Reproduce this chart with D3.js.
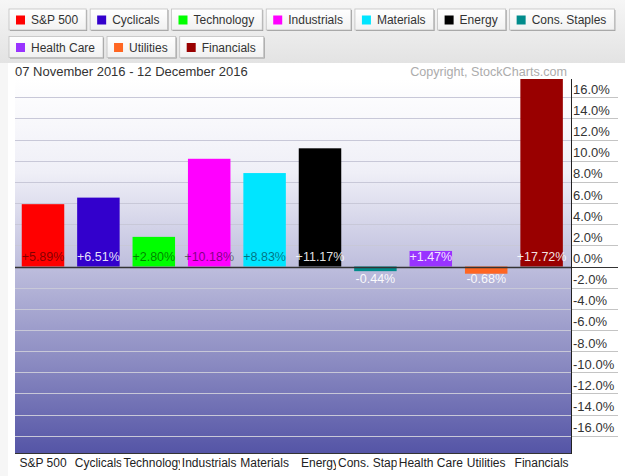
<!DOCTYPE html>
<html>
<head>
<meta charset="utf-8">
<script src="https://cdn.jsdelivr.net/npm/d3@7.9.0/dist/d3.min.js"></script>
<style>
  html, body { margin: 0; padding: 0; background: #fff; }
  svg { display: block; font-family: Arial, 'Liberation Sans', sans-serif; }
</style>
</head>
<body>
<svg id="chart" width="625" height="476"></svg>
<script>
// sector performance, 07 Nov 2016 - 12 Dec 2016
const sectors = ['S&P 500', 'Cyclicals', 'Technology', 'Industrials', 'Materials',
  'Energy', 'Cons. Staples', 'Health Care', 'Utilities', 'Financials'];
const changes = [5.89, 6.51, 2.80, 10.18, 8.83, 11.17, -0.44, 1.47, -0.68, 17.72];
const yTicks = [16, 14, 12, 10, 8, 6, 4, 2, 0, -2, -4, -6, -8, -10, -12, -14, -16];

const dateRange = '07 November 2016 - 12 December 2016';
const copyright = 'Copyright, StockCharts.com';

// colours per sector, and whether the value label is dark ink
const colors = ['#ff0000', '#3300cc', '#00ff00', '#ff00ff', '#00e5ff',
  '#000000', '#008b8b', '#9933ff', '#ff6622', '#990000'];
const darkInk = [true, false, true, true, true, false, false, false, false, false];

const svg = d3.select('#chart');
const W = 625;
const plot = { left: 15, right: 571, top: 79, bottom: 454 };
const hyphen = s => s.replace('\u2212', '-');

const defs = svg.append('defs');

const legendGrad = defs.append('linearGradient')
  .attr('id', 'legendBg').attr('x1', 0).attr('y1', 0).attr('x2', 0).attr('y2', 1);
legendGrad.append('stop').attr('offset', '0%').attr('stop-color', '#f6f6f6');
legendGrad.append('stop').attr('offset', '100%').attr('stop-color', '#e3e3e3');

const btnGrad = defs.append('linearGradient')
  .attr('id', 'btnBg').attr('x1', 0).attr('y1', 0).attr('x2', 0).attr('y2', 1);
btnGrad.append('stop').attr('offset', '0%').attr('stop-color', '#ffffff');
btnGrad.append('stop').attr('offset', '100%').attr('stop-color', '#f1f1f1');

const plotGrad = defs.append('linearGradient')
  .attr('id', 'plotBg').attr('x1', 0).attr('y1', 0).attr('x2', 0).attr('y2', 1);
[['0%', '#ffffff'], ['25%', '#efeff7'], ['50%', '#bebedd'], ['75%', '#8c8cc2'], ['100%', '#5454a6']]
  .forEach(([o, c]) => plotGrad.append('stop').attr('offset', o).attr('stop-color', c));

// faint strip down the left side
svg.append('rect').attr('x', 0).attr('y', 63).attr('width', 8).attr('height', 476 - 63)
  .attr('fill', '#f6f6f6');

// legend panel
svg.append('rect').attr('x', 0).attr('y', 0).attr('width', W).attr('height', 63)
  .attr('fill', 'url(#legendBg)');

const legend = svg.append('g');
let lx = 9, ly = 9;
const btnH = 21;
sectors.forEach((name, i) => {
  const g = legend.append('g');
  const label = g.append('text')
    .attr('font-size', 12).attr('fill', '#333')
    .text(name);
  const w = 22 + label.node().getComputedTextLength() + 8;
  if (lx + w > W - 6) { lx = 9; ly += 27.5; }
  g.attr('transform', `translate(${lx},${ly})`);
  g.insert('rect', 'text').attr('x', 1).attr('y', 1).attr('width', w).attr('height', btnH)
    .attr('fill', '#9a9a9a');
  g.insert('rect', 'text').attr('x', 0).attr('y', 0).attr('width', w).attr('height', btnH)
    .attr('fill', 'url(#btnBg)').attr('stroke', '#c0c0c0').attr('stroke-width', 0.8);
  g.append('rect').attr('x', 7).attr('y', 6.5).attr('width', 9).attr('height', 9)
    .attr('fill', colors[i]);
  label.attr('x', 22).attr('y', 15);
  lx += w + 4;
});

svg.append('text').attr('x', 15).attr('y', 76)
  .attr('font-size', 13).attr('fill', '#333').text(dateRange);
svg.append('text').attr('x', 567).attr('y', 76).attr('text-anchor', 'end')
  .attr('font-size', 12.6).attr('fill', '#acacac').text(copyright);

// scales
const x = d3.scaleBand().domain(sectors)
  .range([plot.left + 0.3, plot.right - 1.7])
  .paddingInner(0.233).paddingOuter(0.1165);
const y = d3.scaleLinear().domain([-17.72, 17.72]).range([plot.bottom, plot.top]);

// plot background
svg.append('rect')
  .attr('x', plot.left).attr('y', plot.top)
  .attr('width', plot.right - plot.left).attr('height', plot.bottom - plot.top)
  .attr('fill', 'url(#plotBg)');

// grid lines inside the plot
svg.append('g').selectAll('line')
  .data(yTicks.filter(t => t !== 0))
  .join('line')
  .attr('x1', plot.left).attr('x2', plot.right)
  .attr('y1', d => Math.round(y(d)) + 0.5).attr('y2', d => Math.round(y(d)) + 0.5)
  .attr('stroke', '#c8c8d8').attr('stroke-width', 1);

// right axis with underlined tick labels
const axis = svg.append('g');
axis.selectAll('line.tick')
  .data(yTicks)
  .join('line')
  .attr('class', 'tick')
  .attr('x1', plot.right).attr('x2', 618)
  .attr('y1', d => Math.round(y(d)) + 0.5).attr('y2', d => Math.round(y(d)) + 0.5)
  .attr('stroke', d => d === 0 ? '#333' : '#c4c4c4').attr('stroke-width', 1);
axis.selectAll('text')
  .data(yTicks)
  .join('text')
  .attr('x', plot.right + 2)
  .attr('y', d => y(d) - 3.5)
  .attr('font-size', 13).attr('fill', '#333')
  .text(d => hyphen(d3.format('.1f')(d)) + '%');

// bars
svg.append('g').selectAll('rect')
  .data(sectors)
  .join('rect')
  .attr('x', d => x(d))
  .attr('width', x.bandwidth())
  .attr('y', (d, i) => y(Math.max(0, changes[i])))
  .attr('height', (d, i) => Math.abs(y(changes[i]) - y(0)))
  .attr('fill', (d, i) => colors[i]);

// zero line
svg.append('line')
  .attr('x1', plot.left).attr('x2', plot.right)
  .attr('y1', Math.round(y(0)) + 0.5).attr('y2', Math.round(y(0)) + 0.5)
  .attr('stroke', '#333').attr('stroke-width', 1.5);

// plot frame: right axis line and bottom edge
svg.append('line').attr('x1', plot.right + 0.5).attr('x2', plot.right + 0.5)
  .attr('y1', plot.top).attr('y2', plot.bottom).attr('stroke', '#222');
svg.append('line').attr('x1', plot.left).attr('x2', plot.right)
  .attr('y1', plot.bottom - 0.5).attr('y2', plot.bottom - 0.5).attr('stroke', '#333');

// value labels
svg.append('g').selectAll('text')
  .data(sectors)
  .join('text')
  .attr('x', d => x(d) + x.bandwidth() / 2)
  .attr('y', (d, i) => changes[i] >= 0 ? y(0) - 6 : y(0) + 16)
  .attr('text-anchor', 'middle')
  .attr('font-size', 12.5)
  .attr('fill', (d, i) => changes[i] < 0 ? '#ffffff' : (darkInk[i] ? '#000' : '#fff'))
  .attr('fill-opacity', (d, i) => changes[i] < 0 ? 0.95 : (darkInk[i] ? 0.5 : 0.9))
  .text((d, i) => (changes[i] >= 0 ? '+' : '') + hyphen(d3.format('.2f')(changes[i])) + '%');

// category labels: each one sits on a white chip that covers the one before it
const xl = svg.append('g');
sectors.forEach(name => {
  const g = xl.append('g');
  const t = g.append('text')
    .attr('x', x(name) + x.bandwidth() / 2).attr('y', 467)
    .attr('text-anchor', 'middle')
    .attr('font-size', 12).attr('fill', '#222')
    .text(name);
  const b = t.node().getBBox();
  g.insert('rect', 'text')
    .attr('x', b.x - 2).attr('y', b.y).attr('width', b.width + 4).attr('height', b.height)
    .attr('fill', '#fff');
});
</script>
</body>
</html>
